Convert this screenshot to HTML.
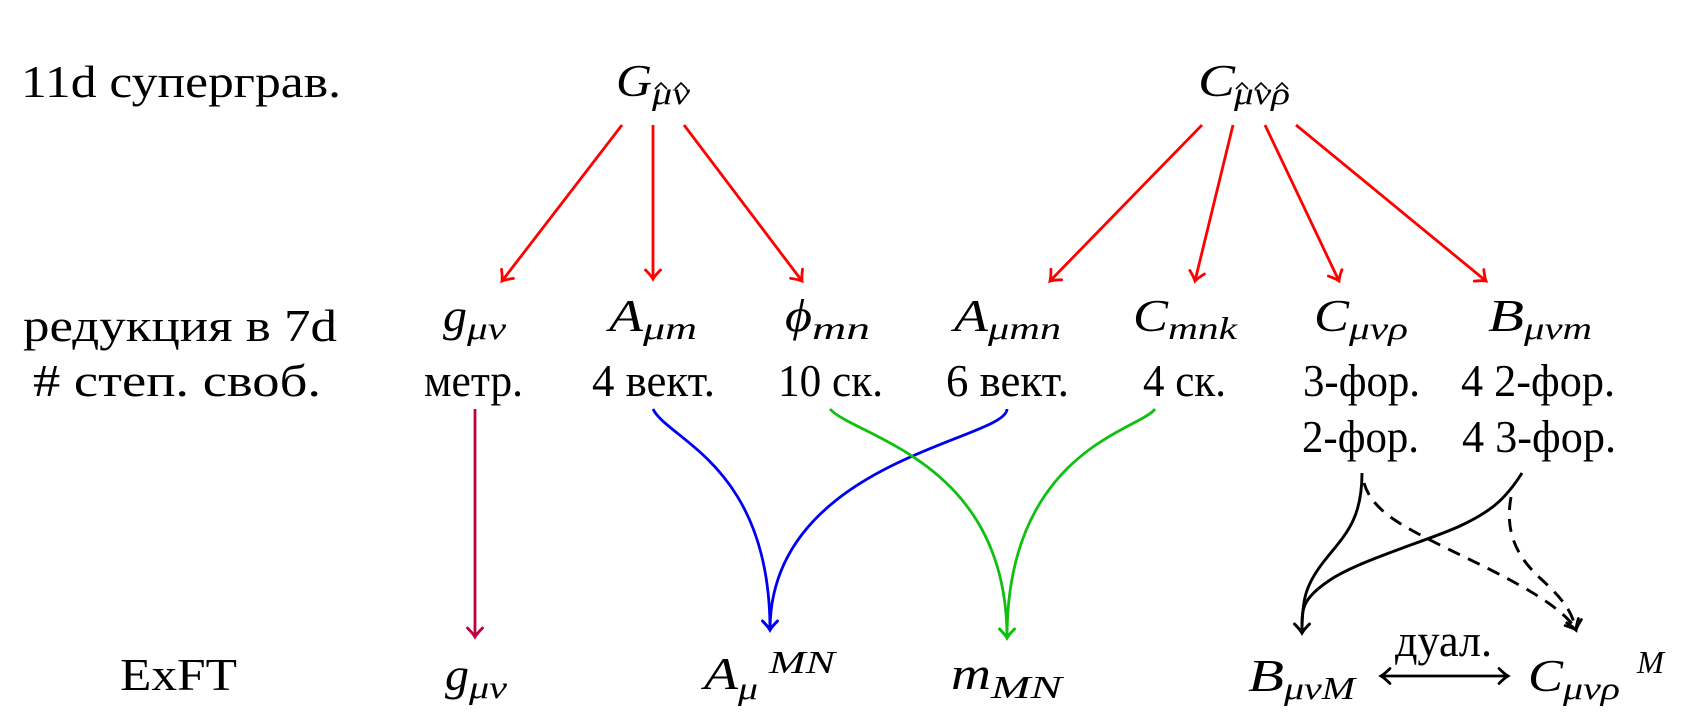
<!DOCTYPE html>
<html>
<head>
<meta charset="utf-8">
<style>
html,body{margin:0;padding:0;background:#fff;}
svg{display:block;}
.t{font-family:"Liberation Serif","DejaVu Serif",serif;font-size:46px;fill:#000;}
.i{font-family:"Liberation Serif","DejaVu Serif",serif;font-size:46px;font-style:italic;fill:#000;}
.s{font-family:"Liberation Serif","DejaVu Serif",serif;font-size:32px;font-style:italic;fill:#000;}
</style>
</head>
<body>
<svg width="1687" height="723" viewBox="0 0 1687 723" xmlns="http://www.w3.org/2000/svg">
<defs>
<marker id="mR" markerUnits="userSpaceOnUse" viewBox="-14 -11 18 22" markerWidth="18" markerHeight="22" refX="0" refY="0" orient="auto" overflow="visible"><path d="M-9,-7.5 Q-3.5,-2 0,0 Q-3.5,2 -9,7.5" fill="none" stroke="#f00" stroke-width="2.8" stroke-linecap="round" stroke-dasharray="none"/></marker>
<marker id="mB" markerUnits="userSpaceOnUse" viewBox="-14 -11 18 22" markerWidth="18" markerHeight="22" refX="0" refY="0" orient="auto" overflow="visible"><path d="M-9,-7.5 Q-3.5,-2 0,0 Q-3.5,2 -9,7.5" fill="none" stroke="#0000f0" stroke-width="2.8" stroke-linecap="round" stroke-dasharray="none"/></marker>
<marker id="mG" markerUnits="userSpaceOnUse" viewBox="-14 -11 18 22" markerWidth="18" markerHeight="22" refX="0" refY="0" orient="auto" overflow="visible"><path d="M-9,-7.5 Q-3.5,-2 0,0 Q-3.5,2 -9,7.5" fill="none" stroke="#10c010" stroke-width="2.8" stroke-linecap="round" stroke-dasharray="none"/></marker>
<marker id="mP" markerUnits="userSpaceOnUse" viewBox="-14 -11 18 22" markerWidth="18" markerHeight="22" refX="0" refY="0" orient="auto" overflow="visible"><path d="M-9,-7.5 Q-3.5,-2 0,0 Q-3.5,2 -9,7.5" fill="none" stroke="#bf0040" stroke-width="2.8" stroke-linecap="round" stroke-dasharray="none"/></marker>
<marker id="mK" markerUnits="userSpaceOnUse" viewBox="-14 -11 18 22" markerWidth="18" markerHeight="22" refX="0" refY="0" orient="auto-start-reverse" overflow="visible"><path d="M-9,-7.5 Q-3.5,-2 0,0 Q-3.5,2 -9,7.5" fill="none" stroke="#000" stroke-width="2.8" stroke-linecap="round" stroke-dasharray="none"/></marker>
</defs>
<rect x="0" y="0" width="1687" height="723" fill="#fff"/>

<!-- Row labels -->
<text class="t" x="21" y="97" textLength="320" lengthAdjust="spacingAndGlyphs">11d суперграв.</text>
<text class="t" x="23" y="341" textLength="314" lengthAdjust="spacingAndGlyphs">редукция в 7d</text>
<text class="t" x="33" y="396" textLength="288" lengthAdjust="spacingAndGlyphs"># степ. своб.</text>
<text class="t" x="120" y="690" textLength="117" lengthAdjust="spacingAndGlyphs">ExFT</text>

<!-- Row 1: G and C -->
<text class="i" x="616" y="96" textLength="36" lengthAdjust="spacingAndGlyphs">G</text>
<text class="s" x="652" y="104" textLength="38" lengthAdjust="spacingAndGlyphs">μν</text>
<path d="M655,89 L661,83 L667,89 M675,89 L681,83 L687,89" fill="none" stroke="#000" stroke-width="1.6"/>

<text class="i" x="1198" y="96" textLength="37" lengthAdjust="spacingAndGlyphs">C</text>
<text class="s" x="1234" y="104" textLength="56" lengthAdjust="spacingAndGlyphs">μνρ</text>
<path d="M1236,89 L1242,83 L1248,89 M1255,89 L1261,83 L1267,89 M1276,89 L1282,83 L1288,89" fill="none" stroke="#000" stroke-width="1.6"/>

<!-- Red arrows -->
<g stroke="#f00" stroke-width="2.8" fill="none" marker-end="url(#mR)">
<line x1="622" y1="125" x2="502" y2="281"/>
<line x1="653" y1="125" x2="653" y2="279"/>
<line x1="684" y1="125" x2="802" y2="281"/>
<line x1="1202" y1="125" x2="1050" y2="281"/>
<line x1="1233" y1="125" x2="1195" y2="281"/>
<line x1="1265" y1="125" x2="1339" y2="281"/>
<line x1="1296" y1="125" x2="1486" y2="281"/>
</g>

<!-- Row 2 -->
<text class="i" x="443" y="331" textLength="24" lengthAdjust="spacingAndGlyphs">g</text>
<text class="s" x="467" y="339" textLength="39" lengthAdjust="spacingAndGlyphs">μν</text>

<text class="i" x="609" y="331" textLength="34" lengthAdjust="spacingAndGlyphs">A</text>
<text class="s" x="643" y="339" textLength="54" lengthAdjust="spacingAndGlyphs">μm</text>

<text class="i" x="785" y="331" textLength="27" lengthAdjust="spacingAndGlyphs">ϕ</text>
<text class="s" x="812" y="339" textLength="58" lengthAdjust="spacingAndGlyphs">mn</text>

<text class="i" x="954" y="331" textLength="34" lengthAdjust="spacingAndGlyphs">A</text>
<text class="s" x="988" y="339" textLength="73" lengthAdjust="spacingAndGlyphs">μmn</text>

<text class="i" x="1133" y="331" textLength="35" lengthAdjust="spacingAndGlyphs">C</text>
<text class="s" x="1168" y="339" textLength="69" lengthAdjust="spacingAndGlyphs">mnk</text>

<text class="i" x="1314" y="331" textLength="35" lengthAdjust="spacingAndGlyphs">C</text>
<text class="s" x="1349" y="339" textLength="59" lengthAdjust="spacingAndGlyphs">μνρ</text>

<text class="i" x="1488" y="331" textLength="36" lengthAdjust="spacingAndGlyphs">B</text>
<text class="s" x="1524" y="339" textLength="68" lengthAdjust="spacingAndGlyphs">μνm</text>

<!-- Row 3 -->
<text class="t" x="424" y="396" textLength="99" lengthAdjust="spacingAndGlyphs">метр.</text>
<text class="t" x="592" y="396" textLength="123" lengthAdjust="spacingAndGlyphs">4 вект.</text>
<text class="t" x="778" y="396" textLength="105" lengthAdjust="spacingAndGlyphs">10 ск.</text>
<text class="t" x="946" y="396" textLength="123" lengthAdjust="spacingAndGlyphs">6 вект.</text>
<text class="t" x="1143" y="396" textLength="83" lengthAdjust="spacingAndGlyphs">4 ск.</text>
<text class="t" x="1303" y="396" textLength="117" lengthAdjust="spacingAndGlyphs">3-фор.</text>
<text class="t" x="1461" y="396" textLength="154" lengthAdjust="spacingAndGlyphs">4 2-фор.</text>
<!-- Row 4 -->
<text class="t" x="1302" y="452" textLength="117" lengthAdjust="spacingAndGlyphs">2-фор.</text>
<text class="t" x="1462" y="452" textLength="154" lengthAdjust="spacingAndGlyphs">4 3-фор.</text>

<!-- Purple -->
<line x1="475" y1="409" x2="475" y2="637" stroke="#bf0040" stroke-width="2.8" marker-end="url(#mP)"/>

<!-- Blue -->
<g stroke="#0000f0" stroke-width="2.8" fill="none" marker-end="url(#mB)">
<path d="M653,409 C668,440 770,465 770,630"/>
<path d="M1007,409 C1007,440 770,460 770,630"/>
</g>

<!-- Green -->
<g stroke="#10c010" stroke-width="2.8" fill="none" marker-end="url(#mG)">
<path d="M830,409 C855,437 1007,460 1007,638"/>
<path d="M1155,409 C1140,430 1007,450 1007,638"/>
</g>

<!-- Black solid -->
<g stroke="#000" stroke-width="2.9" fill="none" marker-end="url(#mK)">
<path d="M1362,473 C1362,520 1345,535 1325,560 S1302,600 1302,633"/>
<path d="M1522,473 C1505,500 1490,512 1460,526 S1360,560 1330,580 S1302,610 1302,633"/>
</g>
<!-- Black dashed -->
<g stroke="#000" stroke-width="2.9" fill="none" stroke-dasharray="13 9" marker-end="url(#mK)">
<path d="M1364,483 C1372,510 1400,525 1440,545 S1560,600 1576,630"/>
<path d="M1511,497 C1505,530 1515,555 1540,578 S1572,612 1576,630"/>
</g>

<!-- Row 5 -->
<text class="i" x="445" y="690" textLength="24" lengthAdjust="spacingAndGlyphs">g</text>
<text class="s" x="469" y="698" textLength="38" lengthAdjust="spacingAndGlyphs">μν</text>

<text class="i" x="704" y="689" textLength="34" lengthAdjust="spacingAndGlyphs">A</text>
<text class="s" x="738" y="699" textLength="20" lengthAdjust="spacingAndGlyphs">μ</text>
<text class="s" x="769" y="673" textLength="66" lengthAdjust="spacingAndGlyphs">MN</text>

<text class="i" x="951" y="689" textLength="40" lengthAdjust="spacingAndGlyphs">m</text>
<text class="s" x="991" y="698" textLength="71" lengthAdjust="spacingAndGlyphs">MN</text>

<text class="i" x="1248" y="691" textLength="36" lengthAdjust="spacingAndGlyphs">B</text>
<text class="s" x="1284" y="699" textLength="71" lengthAdjust="spacingAndGlyphs">μνM</text>

<text class="i" x="1528" y="691" textLength="35" lengthAdjust="spacingAndGlyphs">C</text>
<text class="s" x="1563" y="699" textLength="57" lengthAdjust="spacingAndGlyphs">μνρ</text>
<text class="s" x="1637" y="673" textLength="27" lengthAdjust="spacingAndGlyphs">M</text>

<text class="t" x="1395" y="656" textLength="97" lengthAdjust="spacingAndGlyphs">дуал.</text>
<line x1="1381" y1="676" x2="1508" y2="676" stroke="#000" stroke-width="2.8" marker-start="url(#mK)" marker-end="url(#mK)"/>
</svg>
</body>
</html>
